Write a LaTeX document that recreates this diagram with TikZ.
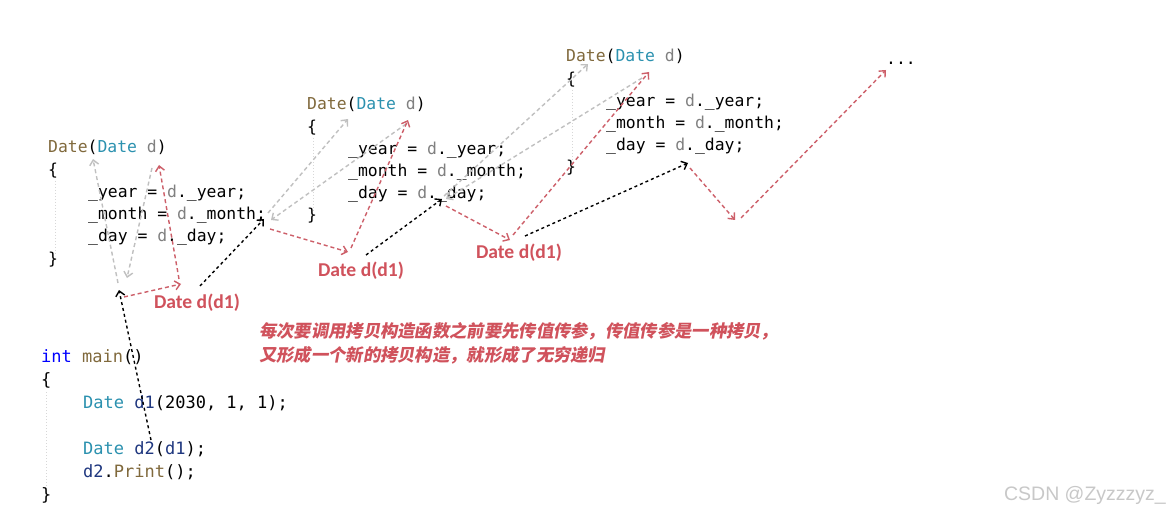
\documentclass[tikz,border=0pt]{standalone}
\usepackage{fontspec}
\setmonofont{DejaVu Sans Mono}
\newfontfamily\labfont{Carlito}
\newfontfamily\cjkfont[FakeSlant=0.18]{Noto Sans CJK SC}
\newfontfamily\wmfont{Liberation Sans}
\usetikzlibrary{arrows.meta}
\definecolor{fncol}{RGB}{128,105,60}
\definecolor{tycol}{RGB}{43,145,175}
\definecolor{pcol}{RGB}{128,128,128}
\definecolor{kwcol}{RGB}{0,0,255}
\definecolor{vcol}{RGB}{31,55,127}
\definecolor{labred}{RGB}{208,82,92}
\definecolor{arred}{RGB}{205,95,105}
\definecolor{argray}{RGB}{192,192,192}
\definecolor{guide}{RGB}{215,215,215}
\definecolor{wmgray}{RGB}{200,200,200}
\newcommand{\cfn}[1]{\textcolor{fncol}{#1}}
\newcommand{\cty}[1]{\textcolor{tycol}{#1}}
\newcommand{\cpa}[1]{\textcolor{pcol}{#1}}
\newcommand{\ckw}[1]{\textcolor{kwcol}{#1}}
\newcommand{\cva}[1]{\textcolor{vcol}{#1}}
\tikzset{
  codeline/.style={anchor=base west, inner sep=0pt, font=\ttfamily\fontsize{16.4}{20}\selectfont},
  mainline/.style={anchor=base west, inner sep=0pt, font=\ttfamily\fontsize{17}{20}\selectfont},
  lab/.style={inner sep=0pt, text=labred, font=\labfont\bfseries\fontsize{19.6}{22}\selectfont},
  note/.style={anchor=west, inner sep=0pt, text=labred, font=\cjkfont\bfseries\fontsize{17.3}{20}\selectfont},
  arr/.style={line width=1.4pt, -{Straight Barb[length=5pt,width=9pt]}},
  redarr/.style={arr, draw=arred, dash pattern=on 4pt off 3pt},
  grayarr/.style={arr, draw=argray, dash pattern=on 4pt off 3pt},
  blkarr/.style={arr, draw=black, dash pattern=on 3pt off 3pt},
  guideline/.style={draw=guide, line width=0.8pt, dash pattern=on 1pt off 2pt},
}
\begin{document}
\begin{tikzpicture}[x=1pt,y=-1pt]
\useasboundingbox[fill=white] (0,0) rectangle (1170,513);

% guide lines
\draw[guideline] (55,181) -- (55,256);
\draw[guideline] (313,138) -- (313,212);
\draw[guideline] (572,90) -- (572,165);
\draw[guideline] (46,392) -- (46,488);

% block 1
\node[codeline] (b1l0) at (48,153) {\cfn{Date}(\cty{Date} \cpa{d})};
\node[codeline] (b1l1) at (48,175.2) {\{};
\node[codeline] (b1l2) at (88,197.4) {\_year = \cpa{d}.\_year;};
\node[codeline] (b1l3) at (88,219.6) {\_month = \cpa{d}.\_month;};
\node[codeline] (b1l4) at (88,241.8) {\_day = \cpa{d}.\_day;};
\node[codeline] (b1l5) at (48,264) {\}};

% block 2
\node[codeline] (b2l0) at (307,110) {\cfn{Date}(\cty{Date} \cpa{d})};
\node[codeline] (b2l1) at (307,132.2) {\{};
\node[codeline] (b2l2) at (348,154.4) {\_year = \cpa{d}.\_year;};
\node[codeline] (b2l3) at (348,176.6) {\_month = \cpa{d}.\_month;};
\node[codeline] (b2l4) at (348,198.8) {\_day = \cpa{d}.\_day;};
\node[codeline] (b2l5) at (307,221) {\}};

% block 3
\node[codeline] (b3l0) at (566,62) {\cfn{Date}(\cty{Date} \cpa{d})};
\node[codeline] (b3l1) at (566,84.2) {\{};
\node[codeline] (b3l2) at (606,106.4) {\_year = \cpa{d}.\_year;};
\node[codeline] (b3l3) at (606,128.6) {\_month = \cpa{d}.\_month;};
\node[codeline] (b3l4) at (606,150.8) {\_day = \cpa{d}.\_day;};
\node[codeline] (b3l5) at (566,173) {\}};

\node[codeline] (dots) at (886,65) {...};

% main
\node[mainline] (m0) at (41,362) {\ckw{int} \cfn{main}()};
\node[mainline] (m1) at (41,385) {\{};
\node[mainline] (m2) at (83,408) {\cty{Date} \cva{d1}(2030, 1, 1);};
\node[mainline] (m3) at (83,454) {\cty{Date} \cva{d2}(\cva{d1});};
\node[mainline] (m4) at (83,477) {\cva{d2}.\cfn{Print}();};
\node[mainline] (m5) at (41,500) {\}};

% labels
\node[lab] (L1) at (197,303) {Date d(d1)};
\node[lab] (L2) at (361,271) {Date d(d1)};
\node[lab] (L3) at (519,253) {Date d(d1)};

\node[note] (n1) at (259,331) {每次要调用拷贝构造函数之前要先传值传参，传值传参是一种拷贝，};
\node[note] (n2) at (259,355) {又形成一个新的拷贝构造，就形成了无穷递归};

\node[inner sep=0pt, anchor=east, text=wmgray, font=\wmfont\fontsize{19.5}{22}\selectfont] (wm) at (1166,495) {CSDN @Zyzzzyz\_};

% coordinates
\coordinate (s0) at (151,440);
\coordinate (p1) at (119,290);
\coordinate (p1r) at (124,297);
\coordinate (q1) at (181,284);
\coordinate (q1s) at (179,279);
\coordinate (t1) at (159,165);
\coordinate (g1s) at (118,283);
\coordinate (g1e) at (93,159);
\coordinate (h1s) at (152,168);
\coordinate (h1e) at (127,278);
\coordinate (c1s) at (200,286);
\coordinate (p2) at (264,219);

\coordinate (g2s) at (268,213);
\coordinate (g2e) at (348,119);
\coordinate (h2s) at (406,124);
\coordinate (h2e) at (271,220);
\coordinate (p2r) at (270,229);
\coordinate (q2) at (348,252);
\coordinate (q2s) at (351,248);
\coordinate (t2) at (408,120);
\coordinate (c2s) at (366,255);
\coordinate (p3) at (442,199);

\coordinate (g3s) at (444,196);
\coordinate (g3e) at (588,64);
\coordinate (h3s) at (642,78);
\coordinate (h3e) at (446,199);
\coordinate (p3r) at (446,206);
\coordinate (q3) at (510,240);
\coordinate (q3s) at (513,235);
\coordinate (t3) at (649,72);
\coordinate (c3s) at (525,236);
\coordinate (p4) at (688,163);

\coordinate (p4r) at (690,168);
\coordinate (q4) at (735,220);
\coordinate (q4s) at (741,218);
\coordinate (t4) at (886,70);

% arrows
\draw[grayarr] (g1s) -- (g1e);
\draw[grayarr] (h1s) -- (h1e);
\draw[grayarr] (g2s) -- (g2e);
\draw[grayarr] (h2s) -- (h2e);
\draw[grayarr] (g3s) -- (g3e);
\draw[grayarr] (h3s) -- (h3e);

\draw[redarr] (p1r) -- (q1);
\draw[redarr] (q1s) -- (t1);
\draw[redarr] (p2r) -- (q2);
\draw[redarr] (q2s) -- (t2);
\draw[redarr] (p3r) -- (q3);
\draw[redarr] (q3s) -- (t3);
\draw[redarr] (p4r) -- (q4);
\draw[redarr] (q4s) -- (t4);

\draw[blkarr] (s0) -- (p1);
\draw[blkarr] (c1s) -- (p2);
\draw[blkarr] (c2s) -- (p3);
\draw[blkarr] (c3s) -- (p4);
\end{tikzpicture}
\end{document}
